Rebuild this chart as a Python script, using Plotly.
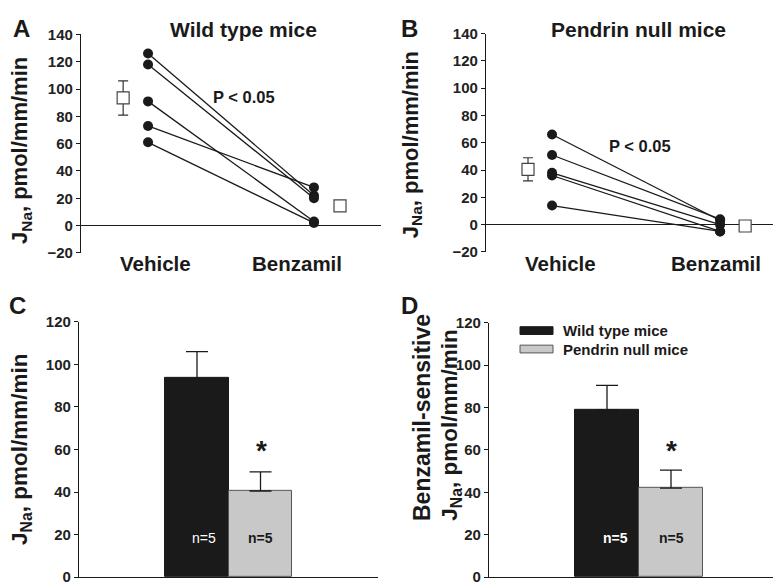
import plotly.graph_objects as go

# ---------------- data ----------------
conditions = ["Vehicle", "Benzamil"]
cond_x = [1, 2]

wt_vehicle = [126, 118, 91, 73, 61]
wt_benzamil = [22, 20, 3, 28, 2]
wt_mean = [93.5, 14.5]
wt_se = [12.5, 3]

pn_vehicle = [66, 51, 38, 36, 14]
pn_benzamil = [3, 4, 0, -5, -5]
pn_mean = [40.5, -1]
pn_se = [8.5, 2]

groups = ["Wild type mice", "Pendrin null mice"]
jna_mean = [93.5, 40.5]
jna_se = [12.5, 9]
bs_mean = [79, 42]
bs_se = [11.5, 8.5]
n_labels = ["n=5", "n=5"]

y_ticks_top = [-20, 0, 20, 40, 60, 80, 100, 120, 140]
y_ticks_bot = [0, 20, 40, 60, 80, 100, 120]

W, H = 781, 583
FONT = "Liberation Sans, Arial, sans-serif"
BLACK = "#1a1a1a"
GRAY = "#c8c8c8"
GRAY_EDGE = "#555555"

def px(x):
    return x / W

def py(y):
    return 1 - y / H

fig = go.Figure()

# ---------------- panels A and B: paired lines ----------------
def paired(xa, ya, vehicle, benz, mean, se, mean_off):
    for v, b in zip(vehicle, benz):
        fig.add_trace(go.Scatter(
            x=cond_x, y=[v, b], mode="lines+markers",
            line=dict(color=BLACK, width=1.3),
            marker=dict(color=BLACK, size=10),
            xaxis=xa, yaxis=ya, showlegend=False, hoverinfo="skip"))
    fig.add_trace(go.Scatter(
        x=[cond_x[0] + mean_off[0], cond_x[1] + mean_off[1]], y=mean,
        mode="markers",
        marker=dict(symbol="square", color="white", size=12,
                    line=dict(color="#444444", width=1.2)),
        error_y=dict(type="data", array=se, color="#333333",
                     thickness=1.2, width=5),
        xaxis=xa, yaxis=ya, showlegend=False, hoverinfo="skip"))

paired("x", "y", wt_vehicle, wt_benzamil, wt_mean, wt_se, (-0.15, 0.157))
paired("x2", "y2", pn_vehicle, pn_benzamil, pn_mean, pn_se, (-0.143, 0.149))

# ---------------- panels C and D: bars ----------------
def bars(xa, ya, vals, errs):
    fig.add_trace(go.Bar(
        x=[0, 1], y=vals, width=[1, 1],
        marker=dict(color=[BLACK, GRAY],
                    line=dict(color=[BLACK, GRAY_EDGE], width=1)),
        error_y=dict(type="data", array=errs, arrayminus=[0, 0],
                     color=BLACK, thickness=1.3, width=11),
        xaxis=xa, yaxis=ya, showlegend=False, hoverinfo="skip"))

bars("x3", "y3", jna_mean, jna_se)
bars("x4", "y4", bs_mean, bs_se)

# ---------------- axes ----------------
tickfont = dict(family=FONT, size=15, color="#222222", weight="bold")

def yax(domain, rng, ticks, zeroline):
    return dict(domain=domain, range=rng, tickvals=ticks, showgrid=False,
                showline=True, linecolor=BLACK, linewidth=1.2,
                ticks="outside", ticklen=4, tickcolor=BLACK, tickwidth=1,
                tickfont=tickfont, zeroline=zeroline, zerolinecolor=BLACK,
                zerolinewidth=1.2, fixedrange=True)

def xax(domain, rng, anchor, line):
    return dict(domain=domain, range=rng, showline=line, linecolor=BLACK,
                linewidth=1.2, showticklabels=False, ticks="",
                showgrid=False, zeroline=False, anchor=anchor)

fig.update_layout(
    width=W, height=H,
    margin=dict(l=0, r=0, t=0, b=0),
    paper_bgcolor="white", plot_bgcolor="white",
    bargap=0,
    xaxis=xax([px(73), px(373)], [0.596, 2.404], "y", False),
    yaxis=yax([py(243), py(18)], [-20, 140], y_ticks_top, True) | dict(anchor="x"),
    xaxis2=xax([px(478), 1.0], [0.607, 2.41], "y2", False),
    yaxis2=yax([py(242), py(17)], [-20, 140], y_ticks_top, True) | dict(anchor="x2"),
    xaxis3=xax([px(71), px(370)], [-1.858, 2.85], "y3", True),
    yaxis3=yax([py(577), py(314)], [0, 120], y_ticks_bot, False) | dict(anchor="x3"),
    xaxis4=xax([px(481), 1.0], [-1.844, 2.844], "y4", True),
    yaxis4=yax([py(577), py(315)], [0, 120], y_ticks_bot, False) | dict(anchor="x4"),
)

# ---------------- annotations ----------------
ann = []

def text(x, y, s, size, color="#1a1a1a", angle=0, bold=True, xanchor="center"):
    ann.append(dict(x=px(x), y=py(y), xref="paper", yref="paper", text=s,
                    showarrow=False, textangle=angle, xanchor=xanchor,
                    yanchor="middle",
                    font=dict(family=FONT, size=size, color=color,
                              weight="bold" if bold else "normal")))

# panel letters
text(13, 12, "A", 24)
text(401, 12, "B", 24)
text(9, 297, "C", 24)
text(401, 297, "D", 24)

# panel titles
text(235, 13, groups[0], 21)
text(630, 13, groups[1], 21)

# category labels
text(147, 254, conditions[0], 20.5)
text(289, 254, conditions[1], 20.5)
text(552, 254, conditions[0], 20.5)
text(708, 254, conditions[1], 20.5)

# P values
text(236, 82, "P < 0.05", 16.5)
text(632, 133, "P < 0.05", 16.5)

# y-axis titles
ytitle = "J<sub>Na</sub>, pmol/mm/min"
text(13, 138, ytitle, 22, angle=-90)
text(404, 132, ytitle, 22, angle=-90)
text(13, 446, ytitle, 22.5, angle=-90)
text(414, 412, "Benzamil-sensitive", 23, angle=-90)
text(443, 421, ytitle, 22.5, angle=-90)

# stars
text(253, 447, "*", 28)
text(663, 447, "*", 28)

# n labels
text(196, 537, n_labels[0], 14, color="white", bold=False)
text(252, 537, n_labels[1], 14)
text(607, 537, n_labels[0], 14, color="white")
text(663, 537, n_labels[1], 14)

# legend texts
text(553, 323, groups[0], 15, xanchor="left")
text(553, 342, groups[1], 15, xanchor="left")

fig.update_layout(annotations=ann)

# legend swatches
shapes = [
    dict(type="rect", xref="paper", yref="paper",
         x0=px(512), x1=px(545), y0=py(327), y1=py(319),
         fillcolor=BLACK, line=dict(color=BLACK, width=1)),
    dict(type="rect", xref="paper", yref="paper",
         x0=px(512), x1=px(545), y0=py(346), y1=py(338),
         fillcolor=GRAY, line=dict(color=GRAY_EDGE, width=1)),
]
fig.update_layout(shapes=shapes)

fig.write_html("out.html")
